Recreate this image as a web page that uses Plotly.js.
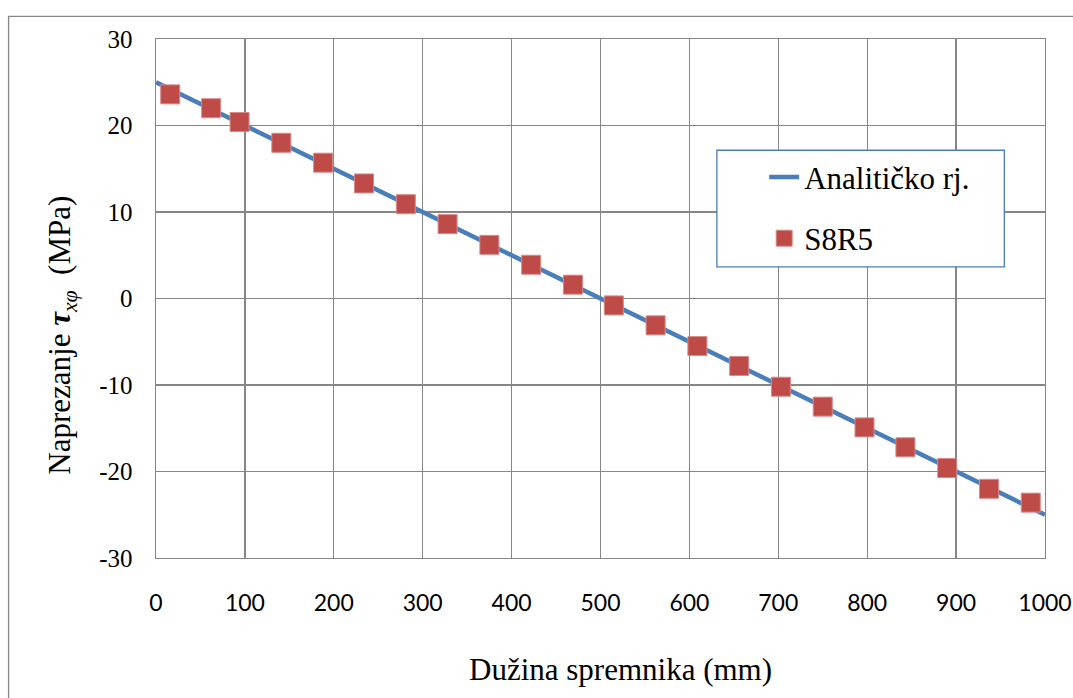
<!DOCTYPE html>
<html>
<head>
<meta charset="utf-8">
<script src="https://cdn.plot.ly/plotly-3.0.1.min.js"></script>
<style>html,body{margin:0;padding:0;background:#fff;}#chart{width:1073px;height:698px;}</style>
</head>
<body>
<div id="chart"></div>
<script>
// Analytical solution
const lineX = [0, 1000];
const lineY = [25, -25];
// S8R5 numerical results
const femX = [16, 62, 94, 141, 188, 234, 281, 328, 375, 422, 469, 515, 562, 609, 656, 703, 750, 797, 843, 890, 937, 984];
const femY = [23.6, 22.0, 20.4, 18.0, 15.7, 13.3, 10.9, 8.6, 6.2, 3.9, 1.6, -0.8, -3.1, -5.5, -7.8, -10.2, -12.5, -14.9, -17.2, -19.6, -22.0, -23.6];
const xTicks = [0, 100, 200, 300, 400, 500, 600, 700, 800, 900, 1000];
const yTicks = [-30, -20, -10, 0, 10, 20, 30];
const seriesNames = ['Analitičko rj.', 'S8R5'];
const xTitle = 'Dužina spremnika (mm)';
const yTitle = 'Naprezanje <b><i>τ</i></b><sub><i>xφ</i></sub>  (MPa)';

const SERIF = 'Liberation Serif';
const SANS = 'Lato';
const gridC = '#868686';
const blue = '#4a7ebb';
const red = '#be4b48';

const traces = [
  {x: lineX, y: lineY, mode: 'lines', name: seriesNames[0], legendgroup: 'a',
   line: {color: blue, width: 4.5}},
  {x: femX, y: femY, mode: 'markers', name: seriesNames[1], legendgroup: 'b',
   marker: {symbol: 'square', size: 19, color: red, line: {color: '#d88a88', width: 1}}}
];

const L = 155.5, R = 1045, T = 38.7, B = 558;
const pw = R - L, ph = B - T;
const px = v => (v - L) / pw;
const py = v => (B - v) / ph;

const layout = {
  width: 1073, height: 698,
  margin: {l: L, r: 1073 - R, t: T, b: 698 - B},
  paper_bgcolor: '#fff', plot_bgcolor: '#fff',
  font: {family: SERIF, size: 20, color: '#000'},
  showlegend: true,
  legend: {x: px(764), y: py(150), xanchor: 'left', yanchor: 'top',
           bgcolor: 'rgba(0,0,0,0)', borderwidth: 0,
           font: {family: SERIF, size: 31, color: '#000'},
           tracegroupgap: 18, traceorder: 'grouped'},
  xaxis: {range: [0, 1000], tickvals: xTicks, ticktext: xTicks.map(String),
          showgrid: true, gridcolor: gridC, gridwidth: 1.4,
          showline: true, linecolor: gridC, linewidth: 1.4, mirror: true,
          zeroline: false, ticks: 'outside', ticklen: 24, tickcolor: 'rgba(0,0,0,0)',
          tickfont: {family: SANS, size: 23, color: '#000'},
          automargin: false},
  yaxis: {range: [-30, 30], tickvals: yTicks, ticktext: yTicks.map(String),
          showgrid: true, gridcolor: gridC, gridwidth: 1.4,
          showline: true, linecolor: gridC, linewidth: 1.4, mirror: true,
          zeroline: false, ticks: 'outside', ticklen: 17, tickcolor: 'rgba(0,0,0,0)',
          tickfont: {family: SERIF, size: 25, color: '#000'},
          automargin: false},
  annotations: [
    {xref: 'paper', x: px(620), xanchor: 'center', yref: 'paper', y: py(670), yanchor: 'middle',
     showarrow: false, text: xTitle, font: {family: SERIF, size: 31, color: '#000'}},
    {xref: 'paper', x: px(62), xanchor: 'center', yref: 'paper', y: py(335), yanchor: 'middle', textangle: -90,
     showarrow: false, text: yTitle, font: {family: SERIF, size: 31, color: '#000'}}
  ],
  shapes: [
    {type: 'rect', xref: 'paper', yref: 'paper', x0: px(8), x1: px(1085), y0: py(710), y1: py(16),
     line: {color: gridC, width: 1.3}, fillcolor: 'rgba(0,0,0,0)', layer: 'below'},
    {type: 'rect', xref: 'paper', yref: 'paper', x0: px(716.7), x1: px(1004.3), y0: py(266.7), y1: py(150),
     line: {color: blue, width: 1.3}, fillcolor: '#fff', layer: 'above'}
  ]
};

Plotly.newPlot('chart', traces, layout, {staticPlot: true});
</script>
</body>
</html>
